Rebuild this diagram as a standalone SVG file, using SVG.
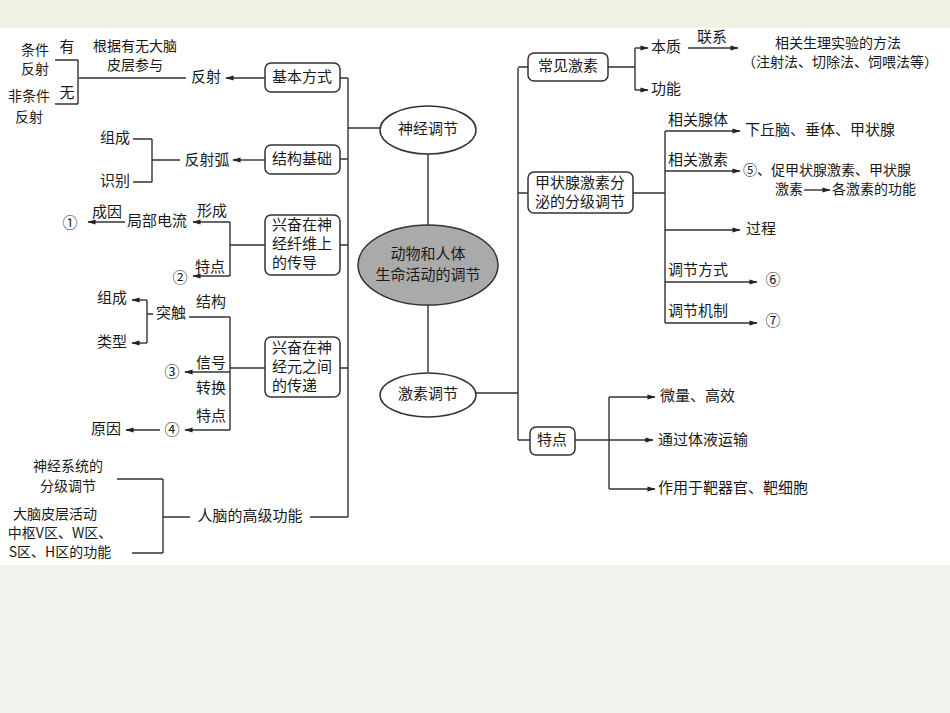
<svg xmlns="http://www.w3.org/2000/svg" width="950" height="713" viewBox="0 0 950 713">
<defs>
<marker id="a" viewBox="0 0 10 10" refX="9" refY="5" markerWidth="7" markerHeight="6" orient="auto"><path d="M0,2 L10,5 L0,8 z" fill="#222"/></marker>
<style>
text{font-family:"Noto Sans CJK SC","Liberation Sans",sans-serif;font-size:15px;fill:#1a1a1a;text-anchor:middle;dominant-baseline:middle}
.l{text-anchor:start}
.s{font-size:14px}
.c line,.c path{stroke:#333;stroke-width:1.4;fill:none}
.ar{marker-end:url(#a)}
.b{fill:#fff;stroke:#333;stroke-width:1.5}
</style>
</defs>
<rect width="950" height="713" fill="#fff"/>
<rect width="950" height="28" fill="#eef3e2"/>
<rect y="565" width="950" height="148" fill="#f3f2ef"/>
<g class="c" id="connectors">
<path d="M348 78V517M340 78H348M340 159H348M340 245H348M340 368H348M310 517H348M348 128H380"/>
<path d="M428 154V225M428 305V372M476 393H518M518 68V440M518 67H528M518 193H528M518 440H530"/>
<line class="ar" x1="265" y1="78" x2="226" y2="78"/>
<path d="M79 78H186M78 60V104M55 60H78M55 104H78"/>
<line class="ar" x1="265" y1="160" x2="233" y2="160"/>
<path d="M152 160H180M152 139V182M133 139H152M133 182H152"/>
<path d="M265 245H230M230 222V276"/>
<line class="ar" x1="230" y1="222" x2="193" y2="222"/>
<line class="ar" x1="125" y1="222" x2="88" y2="222"/>
<line class="ar" x1="230" y1="276" x2="193" y2="276"/>
<path d="M265 368H230M230 317V430M230 317H189"/>
<path d="M153 314H147M147 300V343"/>
<line class="ar" x1="147" y1="300" x2="132" y2="300"/>
<line class="ar" x1="147" y1="343" x2="132" y2="343"/>
<line class="ar" x1="230" y1="372" x2="185" y2="372"/>
<line class="ar" x1="230" y1="430" x2="185" y2="430"/>
<line class="ar" x1="160" y1="430" x2="126" y2="430"/>
<path d="M163 517H190M163 479V553M117 479H163M132 553H163"/>
<path d="M608 67H635M635 48V90"/>
<line class="ar" x1="635" y1="48" x2="648" y2="48"/>
<line class="ar" x1="635" y1="90" x2="648" y2="90"/>
<line class="ar" x1="688" y1="48" x2="738" y2="48"/>
<path d="M633 193H665M665 131V323"/>
<line class="ar" x1="665" y1="131" x2="740" y2="131"/>
<line class="ar" x1="665" y1="171" x2="740" y2="171"/>
<line class="ar" x1="665" y1="230" x2="740" y2="230"/>
<line class="ar" x1="665" y1="282" x2="757" y2="282"/>
<line class="ar" x1="665" y1="323" x2="757" y2="323"/>
<line class="ar" x1="804" y1="190" x2="830" y2="190"/>
<path d="M609 397V489"/>
<line class="ar" x1="575" y1="440" x2="653" y2="440"/>
<line class="ar" x1="609" y1="397" x2="655" y2="397"/>
<line class="ar" x1="609" y1="489" x2="655" y2="489"/>
</g>
<g id="center"><ellipse cx="428" cy="265" rx="70" ry="40" fill="#aaa" stroke="#333" stroke-width="1.5"/><text x="428" y="255">动物和人体</text><text x="428" y="276">生命活动的调节</text></g>
<g id="n-shenjing"><ellipse class="b" cx="428" cy="130" rx="48" ry="24"/><text x="428" y="130">神经调节</text></g>
<g id="n-jisu"><ellipse class="b" cx="428" cy="395" rx="48" ry="22"/><text x="428" y="395">激素调节</text></g>
<g id="n-jiben"><rect class="b" x="265" y="63" width="75" height="29" rx="6"/><text x="302" y="78">基本方式</text></g>
<g id="n-jiegou"><rect class="b" x="265" y="145" width="75" height="29" rx="6"/><text x="302" y="160">结构基础</text></g>
<g id="n-xianwei"><rect class="b" x="265" y="215" width="75" height="60" rx="6"/><text class="l" x="272" y="226">兴奋在神</text><text class="l" x="272" y="245">经纤维上</text><text class="l" x="272" y="264">的传导</text></g>
<g id="n-yuan"><rect class="b" x="265" y="337" width="75" height="60" rx="6"/><text class="l" x="272" y="349">兴奋在神</text><text class="l" x="272" y="368">经元之间</text><text class="l" x="272" y="387">的传递</text></g>
<g id="n-changjian"><rect class="b" x="528" y="53" width="80" height="28" rx="6"/><text x="568" y="67">常见激素</text></g>
<g id="n-jiazhuang"><rect class="b" x="528" y="172" width="105" height="41" rx="6"/><text x="580" y="184">甲状腺激素分</text><text x="580" y="203">泌的分级调节</text></g>
<g id="n-tedian"><rect class="b" x="530" y="427" width="45" height="28" rx="6"/><text x="552" y="441">特点</text></g>
<g id="labels">
<text class="s" x="135" y="47">根据有无大脑</text><text class="s" x="135" y="66">皮层参与</text>
<text x="206" y="78">反射</text>
<text x="67" y="48">有</text><text x="67" y="94">无</text>
<text class="s" x="35" y="51">条件</text><text class="s" x="35" y="70">反射</text>
<text class="s" x="29" y="97">非条件</text><text class="s" x="29" y="118">反射</text>
<text x="207" y="161">反射弧</text>
<text x="115" y="139">组成</text><text x="115" y="182">识别</text>
<text x="212" y="212">形成</text><text x="157" y="222">局部电流</text><text x="107" y="213">成因</text><text x="70" y="224">①</text>
<text x="210" y="268">特点</text><text x="180" y="279">②</text>
<text x="211" y="303">结构</text><text x="171" y="314">突触</text>
<text x="112" y="299">组成</text><text x="112" y="343">类型</text>
<text x="211" y="364">信号</text><text x="211" y="389">转换</text><text x="211" y="417">特点</text>
<text x="172" y="373">③</text><text x="172" y="431">④</text><text x="106" y="430">原因</text>
<text x="250" y="517">人脑的高级功能</text>
<text class="s" x="68" y="467">神经系统的</text><text class="s" x="68" y="487">分级调节</text>
<text class="s" x="55" y="515">大脑皮层活动</text><text class="s" x="60" y="534">中枢V区、W区、</text><text class="s" x="60" y="553">S区、H区的功能</text>
<text x="666" y="48">本质</text><text x="666" y="90">功能</text><text x="712" y="38">联系</text>
<text class="s" x="838" y="44">相关生理实验的方法</text><text class="s" x="840" y="63">（注射法、切除法、饲喂法等）</text>
<text class="l" x="668" y="121">相关腺体</text><text class="l" x="745" y="131">下丘脑、垂体、甲状腺</text>
<text class="l s" x="743" y="171">⑤、促甲状腺激素、甲状腺</text><text class="l" x="668" y="161">相关激素</text>
<text class="l s" x="775" y="190">激素</text><text class="l s" x="832" y="190">各激素的功能</text>
<text class="l" x="746" y="230">过程</text>
<text class="l" x="668" y="271">调节方式</text><text x="773" y="281">⑥</text>
<text class="l" x="668" y="312">调节机制</text><text x="773" y="322">⑦</text>
<text class="l" x="660" y="397">微量、高效</text><text class="l" x="658" y="441">通过体液运输</text><text class="l" x="658" y="489">作用于靶器官、靶细胞</text>
</g>
</svg>
